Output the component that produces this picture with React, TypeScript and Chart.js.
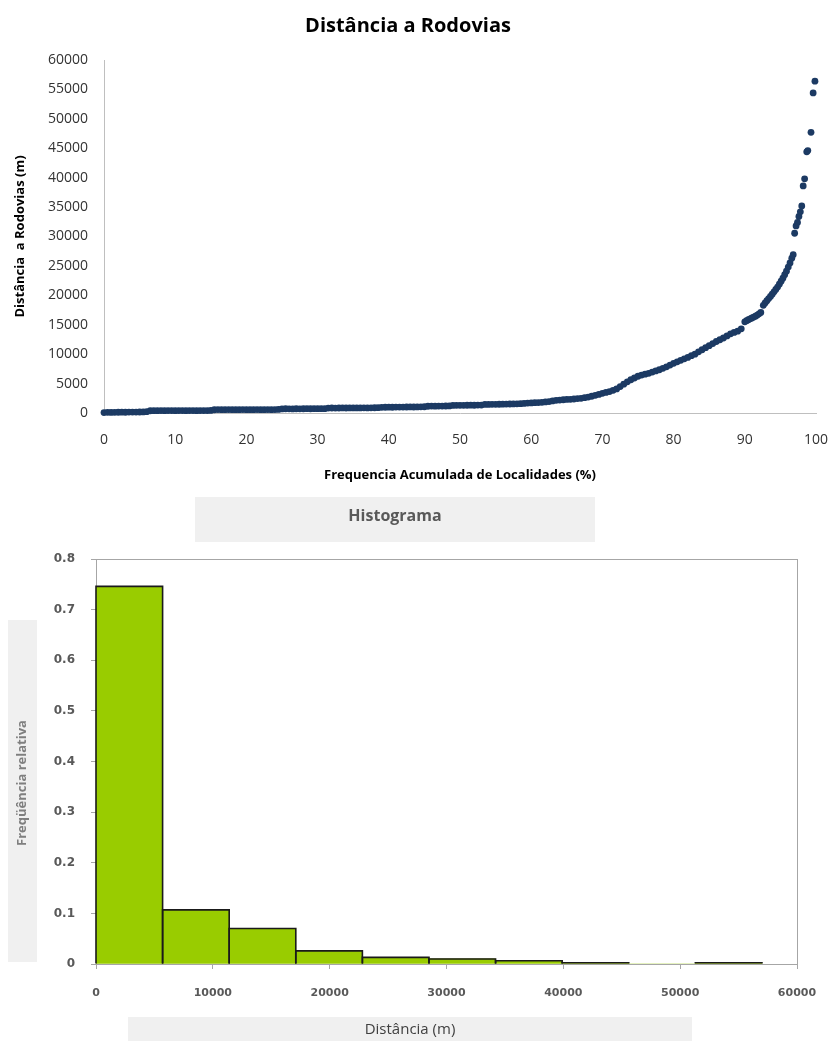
import React, { useEffect, useRef } from 'react';
import { Chart, registerables } from 'chart.js';

Chart.register(...registerables);

// ---- Scatter: cumulative frequency (%) vs distance to highways (m) ----
const flatPoints: [number, number][] = [
  [0, 80], [0.5, 110], [1, 100], [1.5, 120], [2, 130], [2.5, 140], [3, 130], [3.5, 150], [4, 160], [4.5, 150], [5, 170], [5.5, 190], [6, 220],
  [6.5, 380], [7, 400], [7.5, 390], [8, 410], [8.5, 400], [9, 420], [9.5, 410], [10, 400], [10.5, 420], [11, 410], [11.5, 400], [12, 410], [12.5, 420], [13, 400], [13.5, 410], [14, 420], [14.5, 410], [15, 430],
  [15.5, 550], [16, 580], [16.5, 570], [17, 560], [17.5, 580], [18, 570], [18.5, 560], [19, 570], [19.5, 580], [20, 570], [20.5, 560], [21, 570], [21.5, 580], [22, 570], [22.5, 560], [23, 580], [23.5, 570], [24, 580], [24.5, 600],
  [25, 700], [25.5, 720], [26, 710], [26.5, 700], [27, 720], [27.5, 710], [28, 720], [28.5, 730], [29, 720], [29.5, 730], [30, 740], [30.5, 730], [31, 740],
  [31.5, 830], [32, 850], [32.5, 840], [33, 850], [33.5, 860], [34, 850], [34.5, 860], [35, 870], [35.5, 860], [36, 870], [36.5, 880], [37, 870], [37.5, 880], [38, 890], [38.5, 900],
  [39, 960], [39.5, 980], [40, 990], [40.5, 980], [41, 1000], [41.5, 1010], [42, 1000], [42.5, 1020], [43, 1030], [43.5, 1020], [44, 1040], [44.5, 1050], [45, 1060],
  [45.5, 1150], [46, 1170], [46.5, 1160], [47, 1180], [47.5, 1170], [48, 1190], [48.5, 1200],
  [49, 1280], [49.5, 1300], [50, 1310], [50.5, 1300], [51, 1320], [51.5, 1330], [52, 1320], [52.5, 1340], [53, 1350],
  [53.5, 1450], [54, 1460], [54.5, 1470], [55, 1480],
];

const risePoints: [number, number][] = [
  [55.5, 1490], [56, 1500], [56.5, 1510], [57, 1530], [57.5, 1550], [58, 1560], [58.5, 1580], [59, 1620], [59.5, 1680], [60, 1720],
  [60.5, 1750], [61, 1780], [61.5, 1820], [62, 1880], [62.5, 1950], [63, 2050], [63.5, 2150], [64, 2200], [64.5, 2250], [65, 2300],
  [65.5, 2330], [66, 2380], [66.5, 2450], [67, 2500], [67.5, 2600], [68, 2700], [68.5, 2850], [69, 3000], [69.5, 3150], [70, 3350],
  [70.5, 3500], [71, 3650], [71.5, 3850], [72, 4100], [72.5, 4500], [73, 4900], [73.5, 5300], [74, 5650], [74.5, 5950], [75, 6250],
  [75.5, 6450], [76, 6600], [76.5, 6750], [77, 6950], [77.5, 7150], [78, 7350], [78.5, 7600], [79, 7850], [79.5, 8150], [80, 8450],
  [80.5, 8700], [81, 8950], [81.5, 9200], [82, 9450], [82.5, 9750], [83, 10000], [83.5, 10400], [84, 10750], [84.5, 11100], [85, 11450],
  [85.5, 11800], [86, 12150], [86.5, 12450], [87, 12750], [87.5, 13100], [88, 13450], [88.5, 13700], [89, 13900], [89.5, 14300],
  [90, 15500], [90.25, 15700], [90.5, 15850], [90.75, 16000], [91, 16150], [91.25, 16300], [91.5, 16450], [91.75, 16650], [92, 16850], [92.25, 17100],
  [92.6, 18300], [92.85, 18700], [93.1, 19100], [93.35, 19450], [93.6, 19800], [93.85, 20200], [94.1, 20600], [94.35, 21000], [94.6, 21400],
  [94.85, 21900], [95.1, 22400], [95.35, 22900], [95.6, 23500], [95.85, 24100], [96.1, 24800], [96.35, 25500], [96.6, 26300], [96.8, 26900],
];

const tailPoints: [number, number][] = [
  [97.0, 30550], [97.2, 31800], [97.4, 32400], [97.6, 33400], [97.8, 34200], [98.0, 35200], [98.2, 38600], [98.4, 39800],
  [98.7, 44400], [98.85, 44600], [99.3, 47700], [99.6, 54400], [99.85, 56400],
];

// ---- Histogram ----
const histBinEdges = [0, 5700, 11400, 17100, 22800, 28500, 34200, 39900, 45600, 51300, 57000];
const histFreq = [0.746, 0.107, 0.07, 0.026, 0.013, 0.01, 0.0065, 0.0025, 0, 0.0025];

const scatterTitle = 'Distância a Rodovias';
const scatterXTitle = 'Frequencia Acumulada de Localidades (%)';
const scatterYTitle = 'Distância  a Rodovias (m)';
const histTitle = 'Histograma';
const histXTitle = 'Distância (m)';
const histYTitle = 'Freqüência relativa';

const FONT = 'Open Sans';

const histDecor = {
  id: 'histDecor',
  beforeDraw(chart: any) {
    const ctx = chart.ctx;
    ctx.save();
    ctx.fillStyle = '#f0f0f0';
    ctx.fillRect(195, 7, 400, 45);
    ctx.fillRect(8, 130, 29, 342);
    ctx.fillRect(128, 527, 564, 24);
    ctx.restore();
  },
  beforeDatasetsDraw(chart: any) {
    const { ctx, chartArea } = chart;
    ctx.save();
    ctx.strokeStyle = '#a6a6a6';
    ctx.lineWidth = 1;
    ctx.strokeRect(chartArea.left + 0.5, chartArea.top + 0.5, chartArea.right - chartArea.left, chartArea.bottom - chartArea.top);
    ctx.restore();
  },
  afterDatasetsDraw(chart: any) {
    const ctx = chart.ctx;
    const meta = chart.getDatasetMeta(0);
    ctx.save();
    ctx.strokeStyle = '#1a1a1a';
    ctx.lineWidth = 1.6;
    meta.data.forEach((bar: any) => {
      const { x, y, base, width } = bar.getProps(['x', 'y', 'base', 'width'], true);
      if (Math.abs(base - y) < 0.01) return;
      const l = x - width / 2;
      const r = x + width / 2;
      ctx.beginPath();
      ctx.moveTo(l, base);
      ctx.lineTo(l, y);
      ctx.lineTo(r, y);
      ctx.lineTo(r, base);
      ctx.stroke();
    });
    ctx.restore();
  },
  afterDraw(chart: any) {
    const ctx = chart.ctx;
    ctx.save();
    ctx.textAlign = 'center';
    ctx.textBaseline = 'middle';
    ctx.fillStyle = '#595959';
    ctx.font = `bold 16px "${FONT}"`;
    ctx.fillText(histTitle, 395, 26);
    ctx.fillStyle = '#404040';
    ctx.font = `15px "${FONT}"`;
    ctx.fillText(histXTitle, 410, 540);
    ctx.translate(22, 293);
    ctx.rotate(-Math.PI / 2);
    ctx.fillStyle = '#7f7f7f';
    ctx.font = `bold 13px "${FONT}"`;
    ctx.fillText(histYTitle, 0, 0);
    ctx.restore();
  },
};

export default function App() {
  const topRef = useRef<HTMLCanvasElement>(null);
  const botRef = useRef<HTMLCanvasElement>(null);

  useEffect(() => {
    const allPoints = [...flatPoints, ...risePoints, ...tailPoints].map(([x, y]) => ({ x, y }));
    const top = new Chart(topRef.current!, {
      type: 'scatter',
      data: {
        datasets: [
          {
            data: allPoints,
            pointRadius: 3.4,
            pointHoverRadius: 3.4,
            backgroundColor: '#1c3a63',
            borderColor: '#1c3a63',
            borderWidth: 0,
            clip: false,
          } as any,
        ],
      },
      options: {
        responsive: false,
        animation: false,
        events: [],
        layout: { padding: { left: 0, right: 16, top: 0, bottom: 0 } },
        plugins: {
          legend: { display: false },
          tooltip: { enabled: false },
          title: {
            display: true,
            text: scatterTitle,
            color: '#000',
            font: { family: FONT, size: 20, weight: 'bold' },
            padding: { top: 14, bottom: 22 },
          },
        },
        scales: {
          x: {
            type: 'linear',
            min: 0,
            max: 100,
            ticks: { stepSize: 10, color: '#333', font: { family: FONT, size: 14 }, padding: 19 },
            grid: { display: false, drawTicks: false },
            border: { display: true, color: '#bfbfbf', width: 1 },
            title: {
              display: true,
              text: scatterXTitle,
              color: '#000',
              font: { family: FONT, size: 13, weight: 'bold' },
              padding: { top: 0, bottom: 7 },
            },
            afterFit: (s: any) => { s.height = 77; s.paddingLeft = 0; s.paddingRight = 0; },
          },
          y: {
            min: 0,
            max: 60000,
            ticks: { stepSize: 5000, color: '#333', font: { family: FONT, size: 14 }, padding: 16, callback: (v: any) => String(v) },
            grid: { display: false, drawTicks: false },
            border: { display: true, color: '#bfbfbf', width: 1 },
            title: {
              display: true,
              text: scatterYTitle,
              color: '#000',
              font: { family: FONT, size: 13, weight: 'bold' },
              padding: { top: 12, bottom: 0 },
            },
            afterFit: (s: any) => { s.width = 104; },
          },
        },
      } as any,
    });

    const histData = histFreq.map((f, i) => ({ x: (histBinEdges[i] + histBinEdges[i + 1]) / 2, y: f }));
    const bot = new Chart(botRef.current!, {
      type: 'bar',
      data: {
        datasets: [
          {
            data: histData,
            backgroundColor: '#99cc00',
            borderColor: '#1a1a1a',
            borderWidth: 0,
            barPercentage: 1,
            categoryPercentage: 1,
          } as any,
        ],
      },
      options: {
        responsive: false,
        animation: false,
        events: [],
        layout: { padding: { left: 0, right: 35, top: 69, bottom: 0 } },
        plugins: { legend: { display: false }, tooltip: { enabled: false }, title: { display: false } },
        scales: {
          x: {
            type: 'linear',
            min: 0,
            max: 60000,
            offset: false,
            ticks: { stepSize: 10000, color: '#595959', font: { family: 'DejaVu Sans', size: 11, weight: 'bold' }, padding: 18, callback: (v: any) => String(v) },
            grid: { drawOnChartArea: false, drawTicks: true, tickLength: 5, color: '#a6a6a6', offset: false },
            border: { display: true, color: '#a6a6a6' },
            afterFit: (s: any) => { s.height = 77; s.paddingLeft = 0; s.paddingRight = 0; },
          },
          y: {
            min: 0,
            max: 0.8,
            ticks: {
              stepSize: 0.1,
              color: '#595959',
              font: { family: 'DejaVu Sans', size: 12, weight: 'bold' },
              padding: 16,
              callback: (v: any) => (Number(v) === 0 ? '0' : Number(v).toFixed(1)),
            },
            grid: { drawOnChartArea: false, drawTicks: true, tickLength: 5, color: '#a6a6a6' },
            border: { display: true, color: '#a6a6a6' },
            afterFit: (s: any) => { s.width = 96; },
          },
        },
      } as any,
      plugins: [histDecor],
    });

    return () => {
      top.destroy();
      bot.destroy();
    };
  }, []);

  return (
    <div style={{ position: 'absolute', left: 0, top: 0, width: 832, height: 1041, background: '#fff' }}>
      <canvas ref={topRef} width={832} height={490} style={{ position: 'absolute', left: 0, top: 0, width: 832, height: 490 }} />
      <canvas ref={botRef} width={832} height={551} style={{ position: 'absolute', left: 0, top: 490, width: 832, height: 551 }} />
    </div>
  );
}
